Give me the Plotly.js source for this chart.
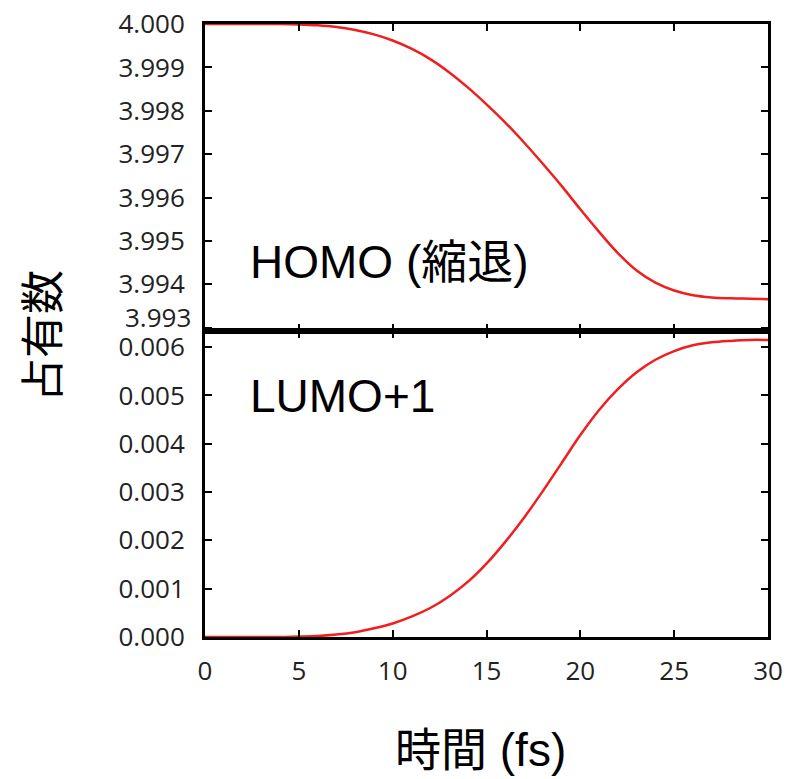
<!DOCTYPE html>
<html>
<head>
<meta charset="utf-8">
<script src="https://cdn.plot.ly/plotly-3.0.1.min.js"></script>
<style>html,body{margin:0;padding:0;background:#fff;}#chart{width:788px;height:779px;}</style>
</head>
<body>
<div id="chart"></div>
<script>
// time (fs)
const timeFs = [0,1,2,3,4,5,6,7,8,9,10,11,12,13,14,15,16,17,18,19,20,21,22,23,24,25,26,27,28,29,30];
// HOMO (degenerate) occupation
const homoOcc = [4.0,4.0,4.0,4.0,4.0,3.99999,3.99997,3.99993,3.99986,3.99976,3.99962,3.99943,3.99919,3.99889,3.99854,3.99815,3.99773,3.99727,3.99678,3.99627,3.99573,3.99521,3.99472,3.99432,3.99404,3.99386,3.99375,3.9937,3.99368,3.99367,3.99366];
// LUMO+1 occupation
const lumoOcc = [0,0,0,0,0,0.00001,0.00002,0.00005,0.0001,0.00018,0.00028,0.00042,0.0006,0.00084,0.00114,0.00152,0.00197,0.00247,0.00302,0.0036,0.00418,0.0047,0.00513,0.00548,0.00574,0.00592,0.00604,0.0061,0.00613,0.00615,0.00615];
// tick labels
const xTicks = [0,5,10,15,20,25,30];
const homoTicks = [3.993,3.994,3.995,3.996,3.997,3.998,3.999,4.000];
const homoTickText = ['','3.994','3.995','3.996','3.997','3.998','3.999','4.000'];
const lumoTicks = [0,0.001,0.002,0.003,0.004,0.005,0.006];
const lumoTickText = ['0.000','0.001','0.002','0.003','0.004','0.005','0.006'];

const tickFont = {family:'"Open Sans", "DejaVu Sans", sans-serif', size:26, color:'#222'};
const lineStyle = {color:'rgb(240,30,30)', width:2.5, shape:'spline', smoothing:1};
const split = 306/613;

const traces = [
  {x: timeFs, y: homoOcc, xaxis:'x2', yaxis:'y2', mode:'lines', line: lineStyle, name:'HOMO(縮退)', showlegend:false},
  {x: timeFs, y: lumoOcc, xaxis:'x', yaxis:'y', mode:'lines', line: lineStyle, name:'LUMO+1', showlegend:false}
];

const axisCommon = {
  showline:true, linecolor:'#000', linewidth:3, mirror:'ticks',
  ticks:'inside', ticklen:7, tickwidth:2, tickcolor:'#000',
  showgrid:false, zeroline:false, tickfont: tickFont, fixedrange:true
};

const layout = {
  width:788, height:779,
  margin:{l:205, r:20, t:24, b:142},
  paper_bgcolor:'#fff', plot_bgcolor:'#fff',
  showlegend:false,
  xaxis: Object.assign({}, axisCommon, {domain:[0,1], anchor:'y', range:[0,30], tickvals:xTicks, ticktext:xTicks.map(String), ticklabelstandoff:9}),
  yaxis: Object.assign({}, axisCommon, {domain:[0,split], anchor:'x', range:[0,0.006335], tickvals:lumoTicks, ticktext:lumoTickText, ticklabelstandoff:12}),
  xaxis2: Object.assign({}, axisCommon, {domain:[0,1], anchor:'y2', matches:'x', range:[0,30], tickvals:xTicks, showticklabels:false}),
  yaxis2: Object.assign({}, axisCommon, {domain:[split,1], anchor:'x2', range:[3.992926,4.0], tickvals:homoTicks, ticktext:homoTickText, ticklabelstandoff:12}),
  shapes: [
    {type:'line', xref:'paper', yref:'paper', x0:0, x1:1, y0:split, y1:split, line:{color:'#000', width:6}}
  ],
  annotations: [
    {text:'3.993', xref:'paper', yref:'y2', x:0, y:3.993, xanchor:'right', yanchor:'middle', xshift:-12, yshift:11, showarrow:false, font: tickFont},
    {text:'HOMO (縮退)', xref:'paper', yref:'paper', x:(248-205)/563, y:(637-262)/613, xanchor:'left', yanchor:'middle', showarrow:false,
     font:{family:'"Liberation Sans", Arial, "Noto Sans CJK JP", sans-serif', size:46, color:'#000'}},
    {text:'LUMO+1', xref:'paper', yref:'paper', x:(248-205)/563, y:(637-396)/613, xanchor:'left', yanchor:'middle', showarrow:false,
     font:{family:'"Liberation Sans", Arial, sans-serif', size:46, color:'#000'}},
    {text:'時間 (fs)', xref:'paper', yref:'paper', x:(480-205)/563, y:(637-750)/613, xanchor:'center', yanchor:'middle', showarrow:false,
     font:{family:'"Liberation Sans", Arial, "Noto Sans CJK JP", sans-serif', size:46, color:'#000'}},
    {text:'占有数', xref:'paper', yref:'paper', x:(40-205)/563, y:(637-336)/613, xanchor:'center', yanchor:'middle', textangle:-90, showarrow:false,
     font:{family:'"Noto Sans CJK JP", sans-serif', size:44, color:'#000'}}
  ]
};

Plotly.newPlot('chart', traces, layout, {displayModeBar:false, staticPlot:true});
</script>
</body>
</html>
